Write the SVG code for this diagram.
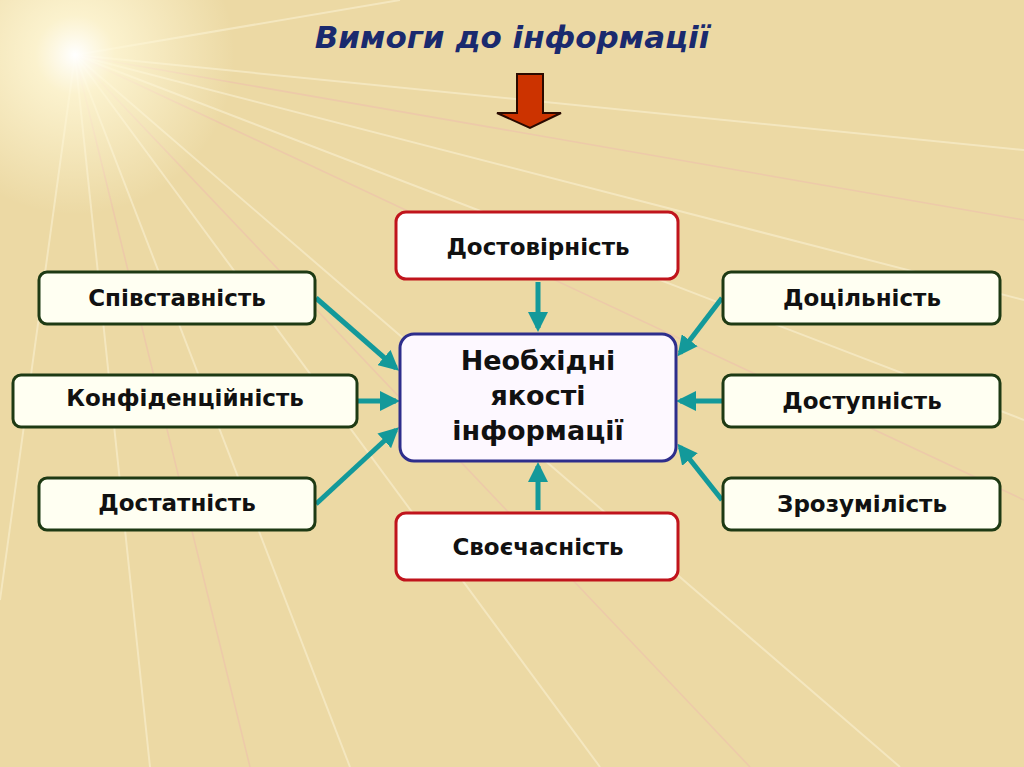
<svg xmlns="http://www.w3.org/2000/svg" width="1024" height="767" viewBox="0 0 1024 767">
<style>
.t{font-family:"DejaVu Sans","Noto Sans",sans-serif;font-weight:bold;fill:#111;text-anchor:middle}
.s{fill:#fffff2;stroke:#1e3a14;stroke-width:3}
.r{fill:#fff;stroke:#c0141c;stroke-width:3}
.c{stroke:#13999a;stroke-width:5;fill:none;marker-end:url(#ah)}
.ray{stroke:#fff8e0;stroke-width:2;opacity:.45}
.rayp{stroke:#f0b8b0;stroke-width:1.5;opacity:.45}
</style>
<defs>
<marker id="ah" viewBox="0 0 10 10" refX="8" refY="5" markerWidth="4" markerHeight="4" orient="auto" markerUnits="strokeWidth"><path d="M0,0 L10,5 L0,10 z" fill="#13999a"/></marker>
<radialGradient id="sun" cx="75" cy="55" r="160" gradientUnits="userSpaceOnUse"><stop offset="0" stop-color="#fff" stop-opacity="1"/><stop offset="0.25" stop-color="#fff8d8" stop-opacity=".8"/><stop offset="1" stop-color="#fff8d8" stop-opacity="0"/></radialGradient>
</defs>
<rect width="1024" height="767" fill="#ecd9a4"/>
<g>
<line class="ray" x1="75" y1="55" x2="1024" y2="420"/>
<line class="ray" x1="75" y1="55" x2="1024" y2="300"/>
<line class="ray" x1="75" y1="55" x2="900" y2="767"/>
<line class="ray" x1="75" y1="55" x2="600" y2="767"/>
<line class="ray" x1="75" y1="55" x2="350" y2="767"/>
<line class="ray" x1="75" y1="55" x2="150" y2="767"/>
<line class="ray" x1="75" y1="55" x2="0" y2="600"/>
<line class="ray" x1="75" y1="55" x2="1024" y2="150"/>
<line class="ray" x1="75" y1="55" x2="400" y2="0"/>
<line class="rayp" x1="75" y1="55" x2="1024" y2="500"/>
<line class="rayp" x1="75" y1="55" x2="750" y2="767"/>
<line class="rayp" x1="75" y1="55" x2="250" y2="767"/>
<line class="rayp" x1="75" y1="55" x2="1024" y2="220"/>
<circle cx="75" cy="55" r="160" fill="url(#sun)"/>
</g>
<text class="t" x="512" y="48" font-size="31" font-style="italic" style="fill:#1a2a6e">Вимоги до інформації</text>
<path id="bigarrow" d="M517,74 H543 V113 H561 L530,128 L497,113 H517 Z" fill="#cc3300" stroke="#2a0a00" stroke-width="2"/>
<g id="connectors">
<line class="c" x1="538" y1="282" x2="538" y2="328"/>
<line class="c" x1="538" y1="510" x2="538" y2="466"/>
<line class="c" x1="316" y1="298" x2="396" y2="368"/>
<line class="c" x1="358" y1="401" x2="396" y2="401"/>
<line class="c" x1="316" y1="504" x2="396" y2="430"/>
<line class="c" x1="722" y1="298" x2="680" y2="353"/>
<line class="c" x1="722" y1="401" x2="680" y2="401"/>
<line class="c" x1="722" y1="500" x2="680" y2="447"/>
</g>
<g id="center"><rect x="400" y="334" width="276" height="127" rx="14" fill="#fdf8ff" stroke="#2e2e8c" stroke-width="3"/>
<text class="t" font-size="27"><tspan x="538" y="370">Необхідні</tspan><tspan x="538" y="405">якості</tspan><tspan x="538" y="440">інформації</tspan></text></g>
<g id="top"><rect class="r" x="396" y="212" width="282" height="67" rx="10"/><text class="t" x="538" y="255" font-size="23">Достовірність</text></g>
<g id="bottom"><rect class="r" x="396" y="513" width="282" height="67" rx="10"/><text class="t" x="538" y="555" font-size="23">Своєчасність</text></g>
<g id="l1"><rect class="s" x="39" y="272" width="276" height="52" rx="8"/><text class="t" x="177" y="306" font-size="23">Співставність</text></g>
<g id="l2"><rect class="s" x="13" y="375" width="344" height="52" rx="8"/><text class="t" x="185" y="406" font-size="23">Конфіденційність</text></g>
<g id="l3"><rect class="s" x="39" y="478" width="276" height="52" rx="8"/><text class="t" x="177" y="511" font-size="23">Достатність</text></g>
<g id="r1"><rect class="s" x="723" y="272" width="277" height="52" rx="8"/><text class="t" x="862" y="306" font-size="23">Доцільність</text></g>
<g id="r2"><rect class="s" x="723" y="375" width="277" height="52" rx="8"/><text class="t" x="862" y="409" font-size="23">Доступність</text></g>
<g id="r3"><rect class="s" x="723" y="478" width="277" height="52" rx="8"/><text class="t" x="862" y="512" font-size="23">Зрозумілість</text></g>
</svg>
